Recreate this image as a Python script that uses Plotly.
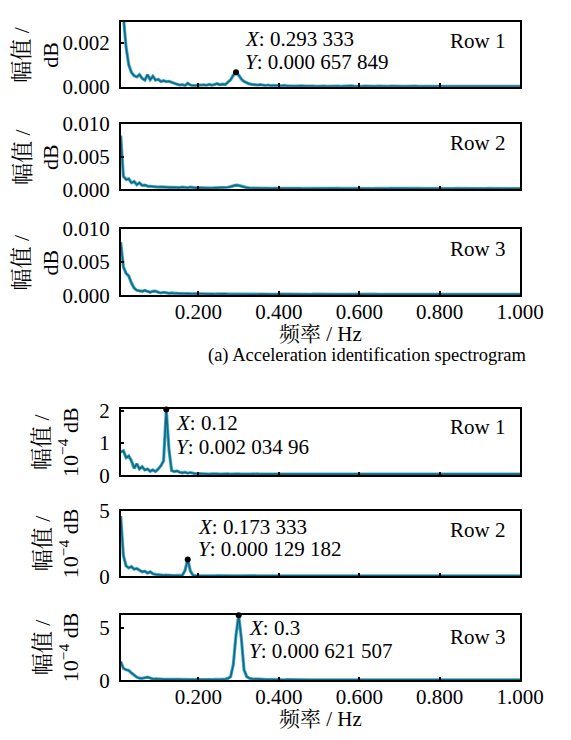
import plotly.graph_objects as go

# frequency bins: k/150 Hz, k = 1..150
N_BINS = 150
freq = [k / N_BINS for k in range(1, N_BINS + 1)]

# (a) acceleration spectra, values in units of 1e-4 dB
acc_row1 = [60, 32, 18, 10, 6.5, 5.0, 4.5, 5.5, 3.8, 3.0,
            5.5, 3.2, 4.8, 3.0, 3.4, 2.4, 2.8, 2.4, 2.5, 1.9,
            1.6, 1.2, 0.8, 1.0, 0.5, 1.6, 0.8, 0.5, 0.6, 0.8,
            0.6, 0.9, 0.7, 1.1, 0.7, 1.2, 1.4, 0.9, 1.2, 1.0,
            2.2, 3.2, 5.2, 6.57849, 5.3, 3.5, 2.4, 1.7, 1.3, 1.1,
            0.9, 0.8, 1.0, 0.7, 0.6, 0.8, 0.5, 0.6, 0.4, 0.5,
            0.4, 0.6, 0.4, 0.3, 0.5, 0.4, 0.3, 0.4, 0.5, 0.3,
            0.3, 0.4, 0.3, 0.2, 0.3, 0.4, 0.3, 0.2, 0.3, 0.3,
            0.4, 0.3, 0.2, 0.3, 0.2, 0.3, 0.4, 0.3, 0.2, 0.3,
            0.2, 0.3, 0.2, 0.3, 0.3, 0.2, 0.3, 0.2, 0.2, 0.3,
            0.2, 0.3, 0.2, 0.2, 0.3, 0.2, 0.2, 0.3, 0.2, 0.2,
            0.3, 0.2, 0.2, 0.2, 0.3, 0.2, 0.2, 0.2, 0.3, 0.2,
            0.2, 0.2, 0.3, 0.2, 0.2, 0.2, 0.2, 0.3, 0.2, 0.2,
            0.2, 0.2, 0.2, 0.3, 0.2, 0.2, 0.2, 0.2, 0.2, 0.3,
            0.2, 0.2, 0.2, 0.2, 0.2, 0.3, 0.2, 0.2, 0.2, 0.2]
acc_row2 = [82, 20, 15, 16, 10, 12, 7, 10, 6, 6.5,
            5, 4.5, 4, 4, 3.5, 3.8, 3.2, 3.5, 3.0, 3.2,
            2.8, 3.0, 2.6, 3.5, 2.5, 2.4, 3.5, 2.4, 2.2, 2.5,
            2.2, 2.4, 2.1, 2.3, 2.0, 2.2, 2.4, 2.1, 2.5, 2.8,
            3.2, 4.2, 5.5, 6.5, 6.0, 4.6, 3.2, 2.6, 2.2, 2.0,
            1.9, 2.0, 1.8, 1.9, 1.7, 1.8, 1.7, 1.6, 1.7, 1.6,
            1.5, 1.6, 1.5, 1.7, 1.5, 1.4, 1.6, 1.5, 1.4, 1.5,
            1.6, 1.5, 1.4, 1.5, 1.4, 1.6, 1.5, 1.4, 1.5, 1.4,
            1.5, 1.6, 1.4, 1.5, 1.4, 1.5, 1.4, 1.5, 1.6, 1.4,
            1.5, 1.4, 1.5, 1.4, 1.3, 1.5, 1.4, 1.5, 1.4, 1.3,
            1.4, 1.5, 1.4, 1.3, 1.4, 1.5, 1.4, 1.3, 1.4, 1.4,
            1.5, 1.4, 1.3, 1.4, 1.4, 1.3, 1.4, 1.5, 1.4, 1.3,
            1.4, 1.3, 1.4, 1.4, 1.3, 1.4, 1.3, 1.4, 1.4, 1.3,
            1.4, 1.3, 1.4, 1.3, 1.4, 1.4, 1.3, 1.4, 1.3, 1.4,
            1.3, 1.4, 1.3, 1.4, 1.3, 1.3, 1.4, 1.3, 1.4, 1.3]
acc_row3 = [80, 43, 33, 29, 18.5, 11, 7.3, 6.3, 5.9, 7.3,
            5.4, 4.4, 5.9, 6.3, 4.4, 3.4, 4.4, 3.4, 2.9, 3.4,
            2.6, 3.0, 2.4, 2.8, 2.2, 2.5, 2.0, 2.3, 2.6, 2.1,
            2.0, 2.2, 1.9, 2.4, 2.0, 1.8, 2.1, 1.9, 1.7, 2.0,
            1.8, 1.7, 1.9, 1.6, 1.8, 1.7, 1.5, 1.8, 1.6, 1.7,
            1.6, 1.5, 1.7, 1.5, 1.6, 1.4, 1.6, 1.5, 1.4, 1.6,
            1.5, 1.4, 1.6, 1.5, 1.4, 1.5, 1.6, 1.4, 1.5, 1.4,
            1.5, 1.4, 1.5, 1.6, 1.4, 1.5, 1.4, 1.5, 1.4, 1.5,
            1.4, 1.5, 1.4, 1.4, 1.5, 1.4, 1.5, 1.4, 1.4, 1.5,
            1.4, 1.4, 1.5, 1.4, 1.4, 1.5, 1.4, 1.4, 1.5, 1.4,
            1.4, 1.5, 1.4, 1.4, 1.4, 1.5, 1.4, 1.4, 1.4, 1.5,
            1.4, 1.4, 1.5, 1.4, 1.4, 1.4, 1.5, 1.4, 1.4, 1.4,
            1.5, 1.4, 1.4, 1.4, 1.5, 1.4, 1.4, 1.4, 1.4, 1.5,
            1.4, 1.4, 1.4, 1.5, 1.4, 1.4, 1.4, 1.4, 1.5, 1.4,
            1.4, 1.4, 1.4, 1.5, 1.4, 1.4, 1.4, 1.4, 1.4, 1.4]

# (b) spectra, values in units of 1e-4 dB
b_row1 = [0.72, 0.76, 0.55, 0.6, 0.45, 0.22, 0.36, 0.2, 0.27, 0.17,
          0.2, 0.13, 0.17, 0.12, 0.2, 0.3, 0.45, 2.03496, 0.8, 0.15,
          0.12, 0.14, 0.1, 0.08, 0.1, 0.07, 0.09, 0.06, 0.05, 0.06,
          0.05, 0.06, 0.05, 0.04, 0.05, 0.06, 0.05, 0.04, 0.05, 0.04,
          0.05, 0.04, 0.05, 0.06, 0.05, 0.04, 0.05, 0.04, 0.04, 0.05,
          0.04, 0.05, 0.04, 0.04, 0.05, 0.04, 0.06, 0.05, 0.04, 0.04,
          0.05, 0.04, 0.04, 0.05, 0.04, 0.04, 0.05, 0.04, 0.04, 0.04,
          0.05, 0.04, 0.04, 0.04, 0.05, 0.04, 0.04, 0.04, 0.05, 0.04,
          0.04, 0.04, 0.05, 0.04, 0.04, 0.06, 0.05, 0.04, 0.04, 0.04,
          0.05, 0.04, 0.04, 0.04, 0.04, 0.05, 0.04, 0.04, 0.04, 0.04,
          0.05, 0.04, 0.04, 0.04, 0.04, 0.04, 0.05, 0.04, 0.04, 0.04,
          0.04, 0.05, 0.04, 0.04, 0.04, 0.04, 0.04, 0.05, 0.04, 0.04,
          0.04, 0.04, 0.04, 0.05, 0.04, 0.04, 0.04, 0.04, 0.04, 0.05,
          0.04, 0.04, 0.04, 0.04, 0.04, 0.05, 0.04, 0.04, 0.04, 0.04,
          0.04, 0.04, 0.05, 0.04, 0.04, 0.04, 0.04, 0.04, 0.04, 0.04]
b_row2 = [4.6, 1.6, 0.8, 0.65, 0.75, 0.55, 0.6, 0.45, 0.35, 0.4,
          0.25, 0.35, 0.2, 0.15, 0.12, 0.1, 0.08, 0.1, 0.07, 0.08,
          0.06, 0.07, 0.06, 0.08, 0.45, 1.29182, 0.4, 0.08, 0.06, 0.05,
          0.06, 0.05, 0.04, 0.06, 0.05, 0.04, 0.05, 0.04, 0.05, 0.06,
          0.05, 0.04, 0.05, 0.04, 0.04, 0.05, 0.04, 0.05, 0.04, 0.04,
          0.05, 0.04, 0.04, 0.05, 0.04, 0.04, 0.05, 0.04, 0.04, 0.04,
          0.05, 0.04, 0.04, 0.04, 0.05, 0.04, 0.04, 0.04, 0.04, 0.05,
          0.04, 0.04, 0.04, 0.05, 0.04, 0.04, 0.04, 0.04, 0.05, 0.04,
          0.04, 0.04, 0.04, 0.04, 0.05, 0.04, 0.04, 0.04, 0.04, 0.04,
          0.05, 0.04, 0.04, 0.04, 0.04, 0.04, 0.05, 0.04, 0.04, 0.04,
          0.04, 0.04, 0.04, 0.05, 0.04, 0.04, 0.04, 0.04, 0.04, 0.04,
          0.05, 0.04, 0.04, 0.04, 0.04, 0.04, 0.04, 0.05, 0.04, 0.04,
          0.04, 0.04, 0.04, 0.04, 0.05, 0.04, 0.04, 0.04, 0.04, 0.04,
          0.04, 0.05, 0.04, 0.04, 0.04, 0.04, 0.04, 0.04, 0.05, 0.04,
          0.04, 0.04, 0.04, 0.04, 0.04, 0.05, 0.04, 0.04, 0.04, 0.04]
b_row3 = [1.8, 1.15, 1.0, 0.95, 0.7, 0.45, 0.3, 0.2, 0.18, 0.25,
          0.3, 0.22, 0.12, 0.15, 0.1, 0.12, 0.09, 0.1, 0.08, 0.1,
          0.08, 0.07, 0.09, 0.08, 0.06, 0.07, 0.08, 0.06, 0.07, 0.06,
          0.07, 0.06, 0.08, 0.07, 0.06, 0.08, 0.07, 0.09, 0.1, 0.12,
          0.18, 0.35, 1.5, 4.3, 6.21507, 4.0, 1.0, 0.35, 0.2, 0.14,
          0.12, 0.1, 0.09, 0.1, 0.08, 0.07, 0.08, 0.06, 0.07, 0.06,
          0.06, 0.05, 0.06, 0.05, 0.05, 0.06, 0.05, 0.05, 0.05, 0.06,
          0.05, 0.05, 0.05, 0.05, 0.06, 0.05, 0.05, 0.05, 0.05, 0.05,
          0.06, 0.05, 0.05, 0.05, 0.05, 0.05, 0.06, 0.05, 0.05, 0.05,
          0.05, 0.05, 0.05, 0.06, 0.05, 0.05, 0.05, 0.05, 0.05, 0.05,
          0.05, 0.06, 0.05, 0.05, 0.05, 0.05, 0.05, 0.05, 0.05, 0.05,
          0.06, 0.05, 0.05, 0.05, 0.05, 0.05, 0.05, 0.05, 0.05, 0.05,
          0.05, 0.05, 0.06, 0.05, 0.05, 0.05, 0.05, 0.05, 0.05, 0.05,
          0.05, 0.05, 0.05, 0.05, 0.05, 0.06, 0.05, 0.05, 0.05, 0.05,
          0.05, 0.05, 0.05, 0.05, 0.05, 0.05, 0.05, 0.05, 0.05, 0.05]

row_labels = ["Row 1", "Row 2", "Row 3"]
x_tickvals = [0.2, 0.4, 0.6, 0.8, 1.0]

# peak annotations (panel, index of marked bin, X text, Y text)
peaks = [
    (0, 43, "0.293 333", "0.000 657 849"),
    (3, 17, "0.12", "0.002 034 96"),
    (4, 25, "0.173 333", "0.000 129 182"),
    (5, 44, "0.3", "0.000 621 507"),
]

series = [
    [v * 1e-4 for v in acc_row1],
    [v * 1e-4 for v in acc_row2],
    [v * 1e-4 for v in acc_row3],
    b_row1, b_row2, b_row3,
]
y_ranges = [[0, 0.00294], [0, 0.010], [0, 0.010], [0, 2.035], [0, 5], [0, 6.24]]
y_ticks = [[0, 0.002], [0, 0.005, 0.010], [0, 0.005, 0.010], [0, 1, 2], [0, 5], [0, 5]]
y_fmt = [".3f", ".3f", ".3f", "d", "d", "d"]

W, H = 571, 740
X0, X1 = 126, 543
panels_px = [(10.3, 77.3), (115.7, 183.3), (224.3, 292.7),
             (410.7, 479.0), (515.7, 583.3), (623.3, 690.7)]
row_y = [0.71, 0.71, 0.70, 0.73, 0.71, 0.66]

SERIF = "Liberation Serif, 'Times New Roman', 'Noto Serif CJK SC', 'Noto Sans CJK SC', serif"
FS = 21
TITLE_FS = 22
DARK = "#17667f"
LIGHT = "#3fb0d0"

fig = go.Figure()
layout = dict(width=W, height=H, margin=dict(l=0, r=0, t=0, b=0),
              paper_bgcolor="white", plot_bgcolor="white", showlegend=False,
              font=dict(family=SERIF, size=FS, color="black"))
annotations = []

for i, ys in enumerate(series):
    n = "" if i == 0 else str(i + 1)
    xa, ya = "x" + n, "y" + n
    top, bot = panels_px[i]
    last = i in (2, 5)
    layout["xaxis" + n] = dict(
        domain=[X0 / W, X1 / W], range=[freq[0], 1.0], anchor=ya,
        showline=True, mirror=True, linecolor="black", linewidth=1.5,
        ticks="inside", ticklen=4, tickwidth=1.5, tickcolor="black",
        tickvals=x_tickvals, tickformat=".3f", showticklabels=last,
        showgrid=False, zeroline=False, ticklabelstandoff=-3,
        tickfont=dict(family=SERIF, size=FS))
    layout["yaxis" + n] = dict(
        domain=[1 - bot / H, 1 - top / H], range=y_ranges[i], anchor=xa,
        showline=True, mirror=True, linecolor="black", linewidth=1.5,
        ticks="inside", ticklen=4, tickwidth=1.5, tickcolor="black",
        tickvals=y_ticks[i], tickformat=y_fmt[i],
        showgrid=False, zeroline=False, ticklabelstandoff=5,
        tickfont=dict(family=SERIF, size=FS))
    fig.add_trace(go.Scatter(x=freq, y=ys, xaxis=xa, yaxis=ya, mode="lines",
                             line=dict(color=LIGHT, width=3.2), hoverinfo="skip"))
    fig.add_trace(go.Scatter(x=freq, y=ys, xaxis=xa, yaxis=ya, mode="lines",
                             line=dict(color=DARK, width=1.6)))
    annotations.append(dict(text=row_labels[i % 3], xref=xa + " domain", yref=ya + " domain",
                            x=0.968, y=row_y[i], xanchor="right", yanchor="middle",
                            showarrow=False, font=dict(family=SERIF, size=FS)))
    # y-axis title
    cy = 1 - (top + bot) / 2 / H
    if i < 3:
        annotations.append(dict(text="幅值 /<br>dB", xref="paper", yref="paper",
                                x=38 / W, y=cy, textangle=-90, showarrow=False,
                                xanchor="center", yanchor="middle",
                                font=dict(family=SERIF, size=TITLE_FS)))
    else:
        annotations.append(dict(text="幅值 /<br>10<sup>−4</sup> dB", xref="paper", yref="paper",
                                x=59 / W, y=cy, textangle=-90, showarrow=False,
                                xanchor="center", yanchor="middle",
                                font=dict(family=SERIF, size=TITLE_FS)))

text_pos = {0: (0.736, 0.382, 7), 3: (0.79, 0.425, 8), 4: (0.759, 0.419, 8), 5: (0.80, 0.455, 8)}
for (pi, k, xs, ysv) in peaks:
    n = "" if pi == 0 else str(pi + 1)
    xa, ya = "x" + n, "y" + n
    fig.add_trace(go.Scatter(x=[freq[k]], y=[series[pi][k]], xaxis=xa, yaxis=ya,
                             mode="markers", marker=dict(color="black", size=6),
                             cliponaxis=False))
    ty1, ty2, sh = text_pos[pi]
    annotations.append(dict(text="<i>X</i>: " + xs, xref=xa, yref=ya + " domain",
                            x=freq[k], y=ty1, xshift=sh, xanchor="left", yanchor="middle",
                            showarrow=False, font=dict(family=SERIF, size=FS)))
    annotations.append(dict(text="<i>Y</i>: " + ysv, xref=xa, yref=ya + " domain",
                            x=freq[k], y=ty2, xshift=sh, xanchor="left", yanchor="middle",
                            showarrow=False, font=dict(family=SERIF, size=FS)))

# x titles and caption
cx = (X0 + X1) / 2 / W
annotations.append(dict(text="频率 / Hz", xref="paper", yref="paper", x=cx, y=1 - 333 / H,
                        showarrow=False, xanchor="center", yanchor="middle",
                        font=dict(family=SERIF, size=FS)))
annotations.append(dict(text="(a) Acceleration identification spectrogram", xref="paper",
                        yref="paper", x=384 / W, y=1 - 355 / H, showarrow=False,
                        xanchor="center", yanchor="middle", font=dict(family=SERIF, size=18.5)))
annotations.append(dict(text="频率 / Hz", xref="paper", yref="paper", x=cx, y=1 - 731 / H,
                        showarrow=False, xanchor="center", yanchor="middle",
                        font=dict(family=SERIF, size=FS)))

layout["annotations"] = annotations
fig.update_layout(**layout)
fig.write_html("out.html")
